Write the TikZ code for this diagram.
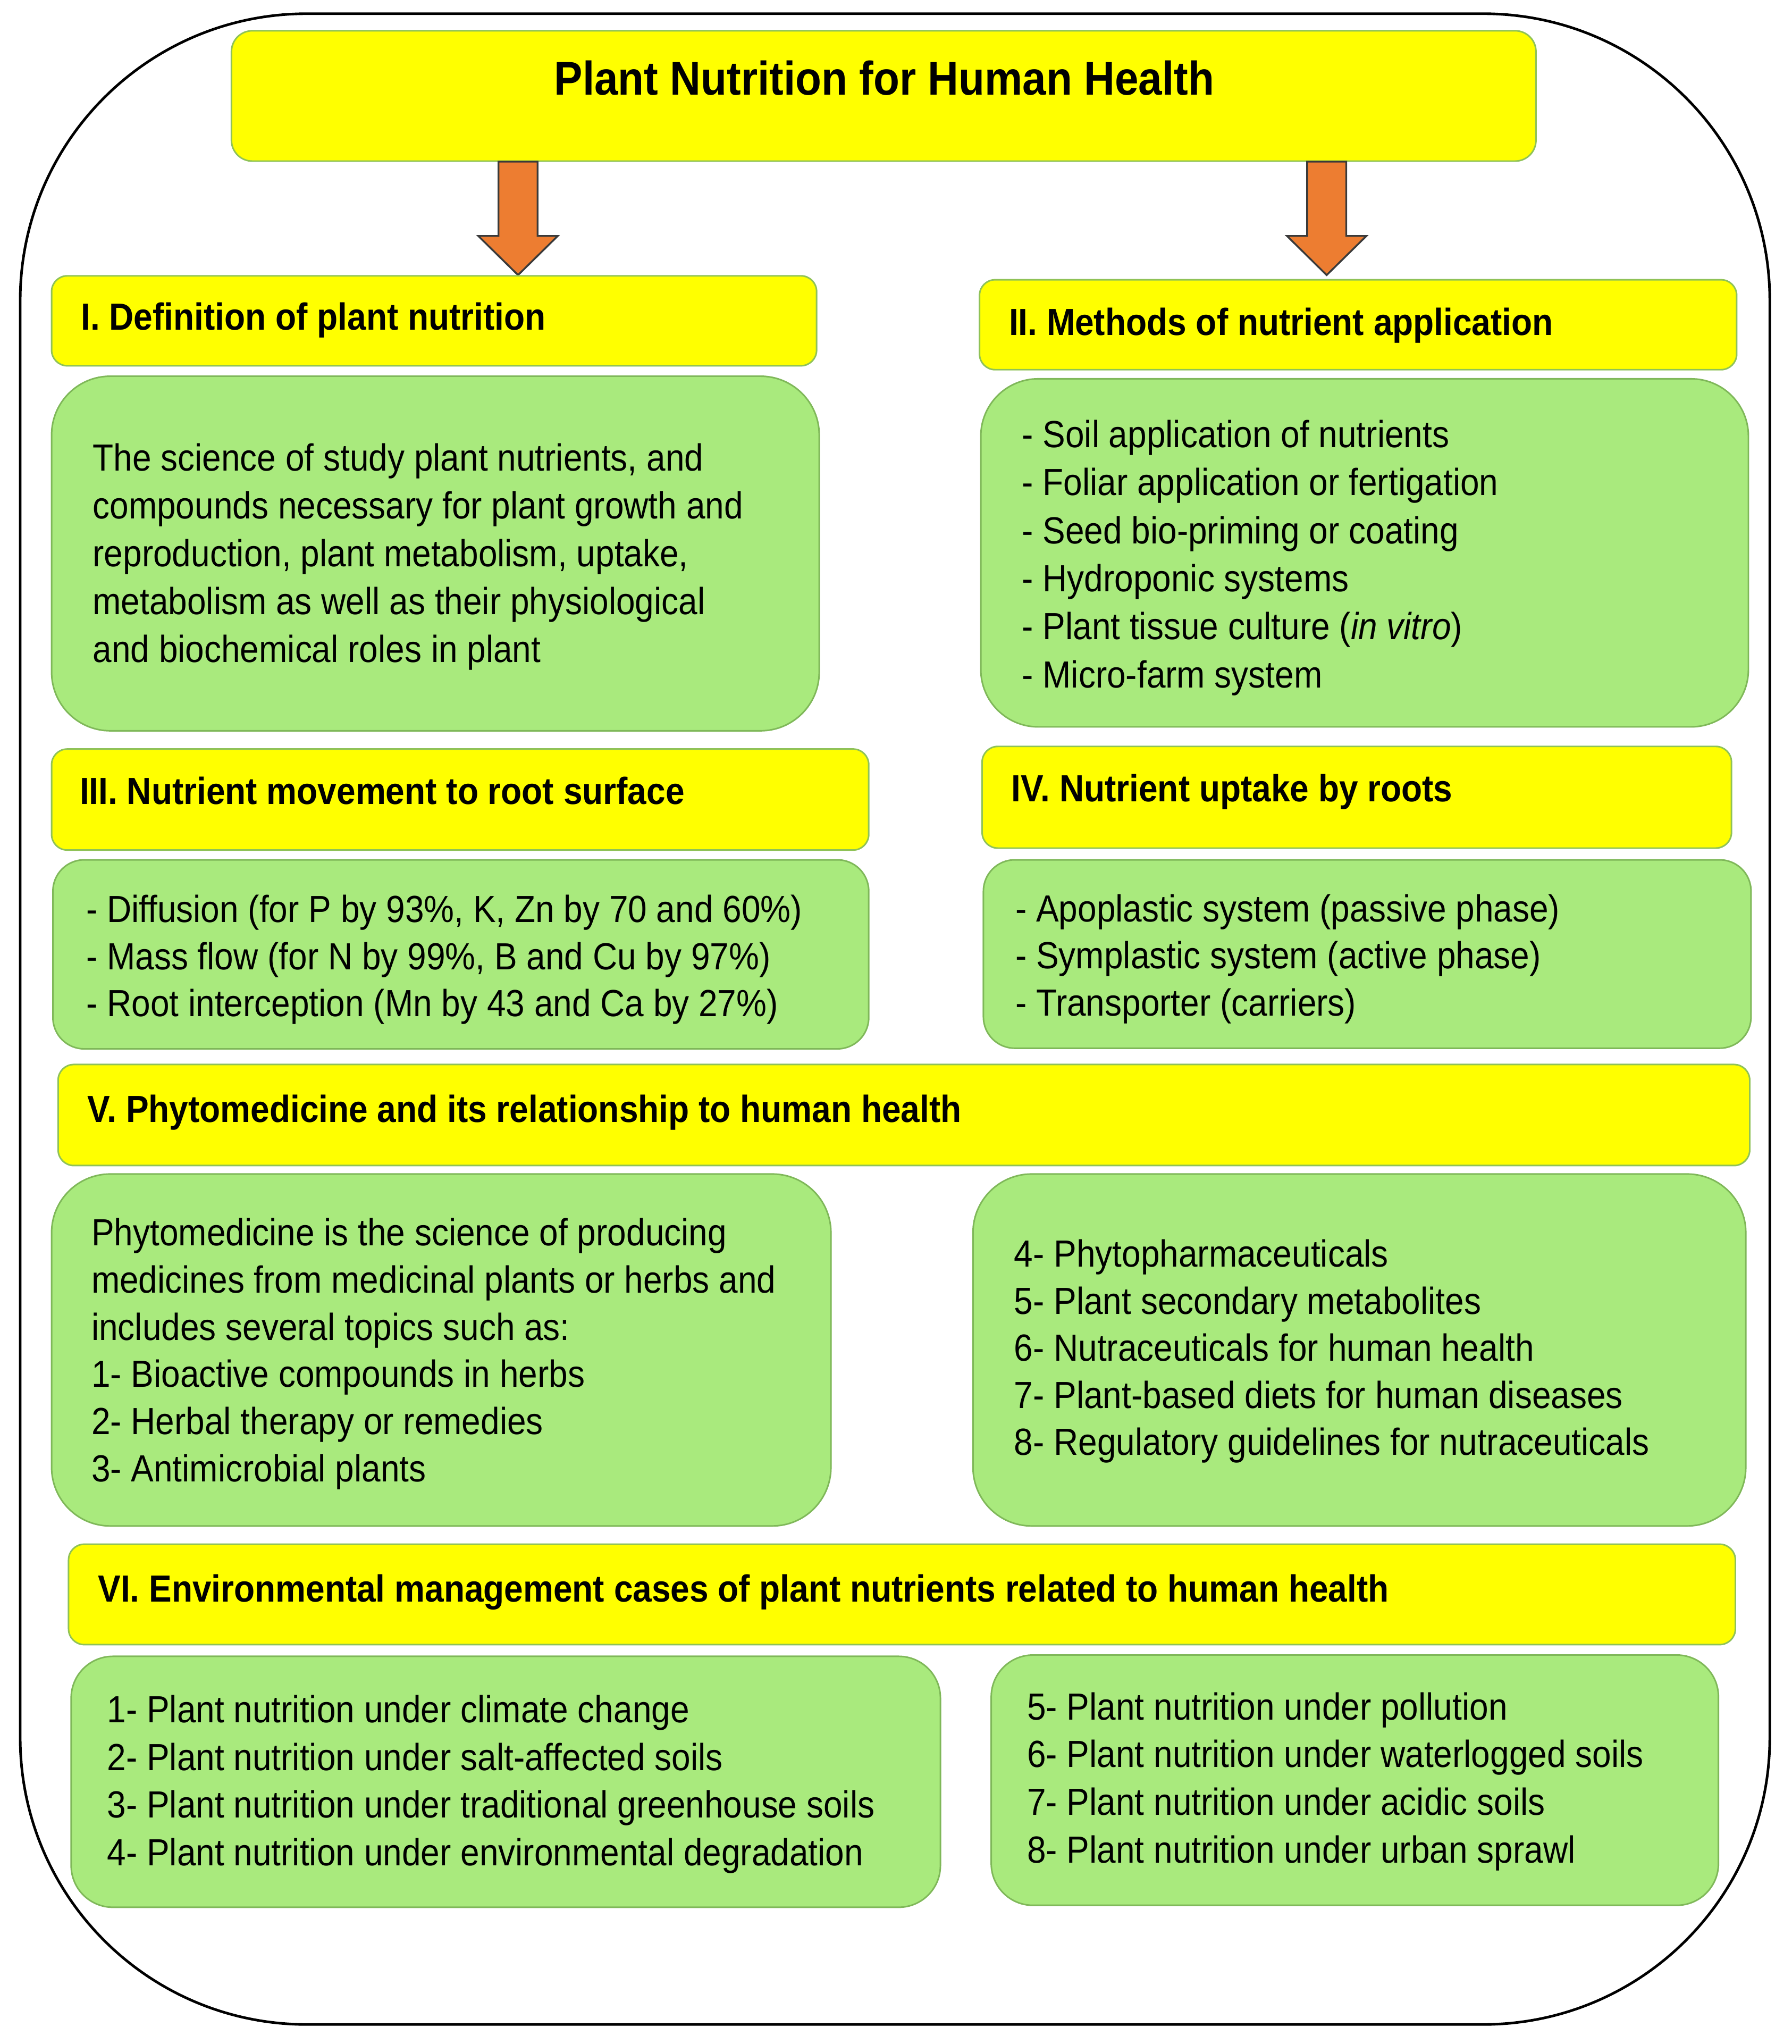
\documentclass[tikz,border=0pt]{standalone}
\usepackage{fontspec}
\setmainfont{Liberation Sans}[FakeStretch=0.9]
\usetikzlibrary{calc}
\definecolor{ylw}{HTML}{FFFF00}
\definecolor{grn}{HTML}{A9EA7D}
\definecolor{grnline}{HTML}{7FB859}
\definecolor{ylwline}{HTML}{8FC257}
\definecolor{org}{HTML}{ED7D31}
\definecolor{arrline}{HTML}{3A3A3A}
\begin{document}
\begin{tikzpicture}[x=1pt,y=-1pt,
  hbox/.style={draw=ylwline, fill=ylw, line width=1.2pt, anchor=north west, inner sep=0pt, rounded corners=12pt},
  gbox/.style={draw=grnline, fill=grn, line width=1.2pt, anchor=north west, inner sep=0pt},
  htxt/.style={anchor=base west, inner sep=0pt, font=\fontsize{29}{35}\selectfont\bfseries},
  btxt/.style={anchor=base west, inner sep=0pt, font=\fontsize{29}{35}\selectfont},
  arrowsty/.style={fill=org, draw=arrline, line width=1.4pt, line join=miter},
  downarrow/.pic={\draw[arrowsty] (-15,0) -- (15,0) -- (15,57) -- (30.5,57) -- (0,87) -- (-30.5,57) -- (-15,57) -- cycle;}
]
\useasboundingbox (0,0) rectangle (1375,1568);
% outer frame
\draw[line width=2pt, rounded corners=220pt] (15.5,10.5) rectangle (1358,1553);

% title
\node[hbox, rounded corners=16pt, minimum width=1001pt, minimum height=100pt] (title) at (177,23) {};
\node[anchor=base, inner sep=0pt, font=\fontsize{36.3}{40}\selectfont\bfseries] (titletxt) at (678.5,73) {Plant Nutrition for Human Health};

% arrows
\pic at (397.5,124) {downarrow};
\pic at (1018,124) {downarrow};

% I
\node[hbox, minimum width=587pt, minimum height=69pt] (h1) at (39,211) {};
\node[htxt] (h1t) at (62,253) {I. Definition of plant nutrition};
\node[gbox, rounded corners=45pt, minimum width=589pt, minimum height=272pt] (g1) at (39,288) {};
\foreach \t [count=\i from 0] in {{The science of study plant nutrients, and},{compounds necessary for plant growth and},{reproduction, plant metabolism, uptake,},{metabolism as well as their physiological},{and biochemical roles in plant}}
  \node[btxt] (g1t\i) at (71,{361+36.8*\i}) {\t};

% II
\node[hbox, minimum width=581pt, minimum height=69pt] (h2) at (751,214) {};
\node[htxt] (h2t) at (774,257) {II. Methods of nutrient application};
\node[gbox, rounded corners=44pt, minimum width=589pt, minimum height=267pt] (g2) at (752,290) {};
\foreach \t [count=\i from 0] in {{- Soil application of nutrients},{- Foliar application or fertigation},{- Seed bio-priming or coating},{- Hydroponic systems},{- Plant tissue culture (\textit{in vitro})},{- Micro-farm system}}
  \node[btxt] (g2t\i) at (784,{343.3+36.84*\i}) {\t};

% III
\node[hbox, minimum width=627pt, minimum height=77.5pt] (h3) at (39,574) {};
\node[htxt] (h3t) at (61,617) {III. Nutrient movement to root surface};
\node[gbox, rounded corners=24pt, minimum width=626pt, minimum height=145pt] (g3) at (40,659) {};
\foreach \t [count=\i from 0] in {{- Diffusion (for P by 93\%, K, Zn by 70 and 60\%)},{- Mass flow (for N by 99\%, B and Cu by 97\%)},{- Root interception (Mn by 43 and Ca by 27\%)}}
  \node[btxt] (g3t\i) at (66,{707.7+36.05*\i}) {\t};

% IV
\node[hbox, minimum width=575pt, minimum height=78pt] (h4) at (753,572) {};
\node[htxt] (h4t) at (776,615) {IV. Nutrient uptake by roots};
\node[gbox, rounded corners=24pt, minimum width=589pt, minimum height=144.5pt] (g4) at (754,659) {};
\foreach \t [count=\i from 0] in {{- Apoplastic system (passive phase)},{- Symplastic system (active phase)},{- Transporter (carriers)}}
  \node[btxt] (g4t\i) at (779,{707+36.1*\i}) {\t};

% V
\node[hbox, minimum width=1298pt, minimum height=77.5pt] (h5) at (44,816) {};
\node[htxt] (h5t) at (67,861) {V. Phytomedicine and its relationship to human health};
\node[gbox, rounded corners=45pt, minimum width=598pt, minimum height=270pt] (g5l) at (39,900) {};
\foreach \t [count=\i from 0] in {{Phytomedicine is the science of producing},{medicines from medicinal plants or herbs and},{includes several topics such as:},{1- Bioactive compounds in herbs},{2- Herbal therapy or remedies},{3- Antimicrobial plants}}
  \node[btxt] (g5lt\i) at (70,{955.4+36.26*\i}) {\t};
\node[gbox, rounded corners=45pt, minimum width=593pt, minimum height=270pt] (g5r) at (746,900) {};
\foreach \t [count=\i from 0] in {{4- Phytopharmaceuticals},{5- Plant secondary metabolites},{6- Nutraceuticals for human health},{7- Plant-based diets for human diseases},{8- Regulatory guidelines for nutraceuticals}}
  \node[btxt] (g5rt\i) at (778,{972+36.1*\i}) {\t};

% VI
\node[hbox, minimum width=1279pt, minimum height=77pt] (h6) at (52,1184) {};
\node[htxt] (h6t) at (75,1229) {VI. Environmental management cases of plant nutrients related to human health};
\node[gbox, rounded corners=32pt, minimum width=667pt, minimum height=192.5pt] (g6l) at (54,1270) {};
\foreach \t [count=\i from 0] in {{1- Plant nutrition under climate change},{2- Plant nutrition under salt-affected soils},{3- Plant nutrition under traditional greenhouse soils},{4- Plant nutrition under environmental degradation}}
  \node[btxt] (g6lt\i) at (82,{1321.4+36.6*\i}) {\t};
\node[gbox, rounded corners=32pt, minimum width=558pt, minimum height=192pt] (g6r) at (760,1269) {};
\foreach \t [count=\i from 0] in {{5- Plant nutrition under pollution},{6- Plant nutrition under waterlogged soils},{7- Plant nutrition under acidic soils},{8- Plant nutrition under urban sprawl}}
  \node[btxt] (g6rt\i) at (788,{1319.2+36.6*\i}) {\t};
\end{tikzpicture}
\end{document}
